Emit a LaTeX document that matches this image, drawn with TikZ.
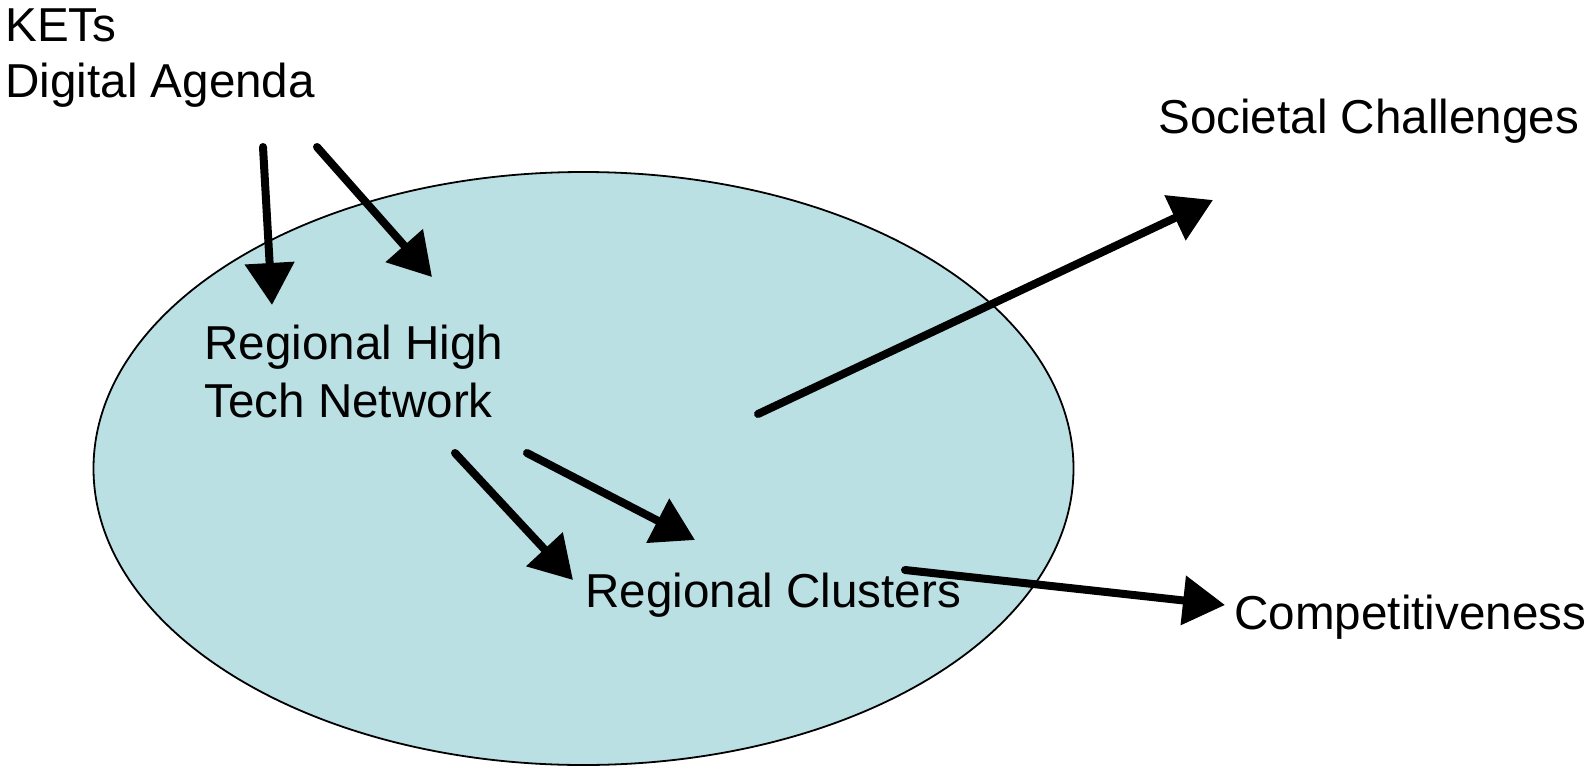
\documentclass[tikz,border=0pt]{standalone}
\usepackage{fontspec}
\setmainfont{Liberation Sans}
\usetikzlibrary{arrows.meta}
\definecolor{regionfill}{RGB}{186,224,228}
\tikzset{
  label/.style={anchor=base west, inner sep=0pt, font=\fontsize{23.8pt}{28pt}\selectfont},
  flow/.style={line width=4pt, line cap=round, -{Triangle[length=21pt,width=24pt]}},
}
\begin{document}
\begin{tikzpicture}[x=0.5pt, y=-0.5pt]
  \useasboundingbox (0,0) rectangle (1586,766);
  % region ellipse
  \draw[fill=regionfill, line width=0.9pt] (583.5,468.5) ellipse [x radius=490, y radius=296.5];

  % labels
  \node[label] (kets) at (5,41) {KETs};
  \node[label] (digital) at (5,97) {Digital Agenda};
  \node[label] (societal) at (1158,133) {Societal Challenges};
  \node[label] (rhigh) at (204,359) {Regional High};
  \node[label] (rtech) at (204,417) {Tech Network};
  \node[label] (clusters) at (585,607) {Regional Clusters};
  \node[label] (compet) at (1234,629) {Competitiveness};

  % arrow end points
  \coordinate (a1s) at (263,147);  \coordinate (a1e) at (272,305);
  \coordinate (a2s) at (317,147);  \coordinate (a2e) at (432,277);
  \coordinate (a3s) at (758,414);  \coordinate (a3e) at (1213,200);
  \coordinate (a4s) at (455,453);  \coordinate (a4e) at (573,580);
  \coordinate (a5s) at (527,453);  \coordinate (a5e) at (695,540);
  \coordinate (a6s) at (905,570);  \coordinate (a6e) at (1225,605);

  \draw[flow] (a1s) -- (a1e);
  \draw[flow] (a2s) -- (a2e);
  \draw[flow] (a3s) -- (a3e);
  \draw[flow] (a4s) -- (a4e);
  \draw[flow] (a5s) -- (a5e);
  \draw[flow] (a6s) -- (a6e);
\end{tikzpicture}
\end{document}
